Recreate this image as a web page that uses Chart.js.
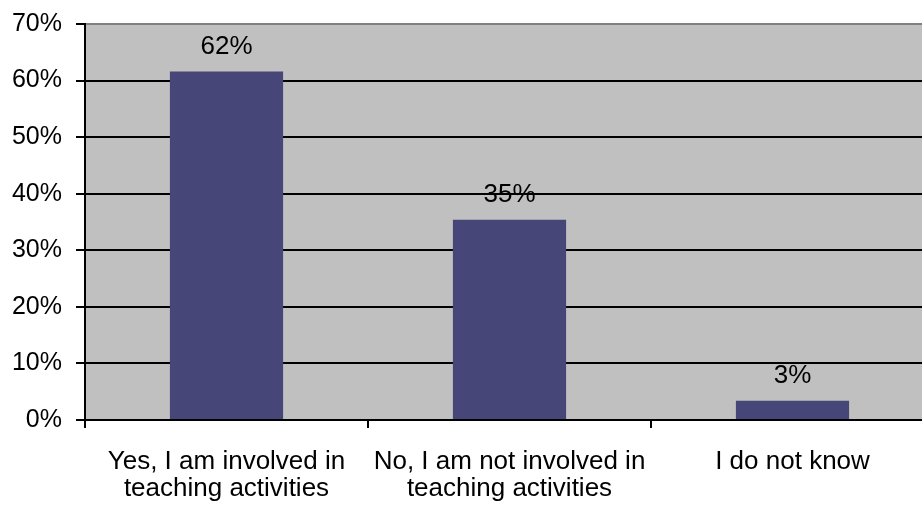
<!DOCTYPE html>
<html lang="en">
<head>
    <meta charset="UTF-8">
    <title>Teaching activities</title>
    <script src="https://cdn.jsdelivr.net/npm/chart.js@4"></script>
    <style>
      html, body { margin: 0; padding: 0; background: #fff; overflow: hidden; }
    </style>
</head>
<body>
    <canvas id="answersChart" width="934" height="506"></canvas>
<script>
  // answers and their share of respondents (%)
  const categories = [
    ['Yes, I am involved in', 'teaching activities'],
    ['No, I am not involved in', 'teaching activities'],
    'I do not know'
  ];
  const shares = [61.6, 35.4, 3.4];
  const yTicks = [0, 10, 20, 30, 40, 50, 60, 70];

  const family = 'Liberation Sans, Arial, sans-serif';
  const tickFont = { family: family, size: 25 };
  const labelFont = { family: family, size: 26 };

  // grey plot background
  const plotBackground = {
    id: 'plotBackground',
    beforeDraw(chart) {
      const { ctx, chartArea: a } = chart;
      ctx.save();
      ctx.fillStyle = '#c0c0c0';
      ctx.fillRect(a.left, a.top, a.right - a.left, a.bottom - a.top);
      ctx.restore();
    }
  };

  // percentage written above each bar
  const valueLabels = {
    id: 'valueLabels',
    afterDatasetsDraw(chart) {
      const { ctx } = chart;
      const meta = chart.getDatasetMeta(0);
      ctx.save();
      ctx.font = labelFont.size + 'px ' + labelFont.family;
      ctx.fillStyle = '#000';
      ctx.textAlign = 'center';
      ctx.textBaseline = 'alphabetic';
      meta.data.forEach((bar, i) => {
        ctx.fillText(Math.round(shares[i]) + '%', bar.x, bar.y - 18);
      });
      ctx.restore();
    }
  };

  const ctx = document.getElementById('answersChart').getContext('2d');

  new Chart(ctx, {
    type: 'bar',
    data: {
      labels: categories,
      datasets: [{
        data: shares,
        backgroundColor: '#464678',
        borderWidth: 0,
        barPercentage: 0.4,
        categoryPercentage: 1
      }]
    },
    options: {
      responsive: false,
      animation: false,
      layout: { padding: { top: 24, right: 0, left: 0, bottom: 0 } },
      plugins: {
        legend: { display: false },
        tooltip: { enabled: false }
      },
      scales: {
        x: {
          offset: true,
          grid: { display: true, drawOnChartArea: false, drawTicks: true, tickLength: 8, color: '#000', lineWidth: 2, offset: true },
          border: { color: '#000', width: 2 },
          ticks: { color: '#000', font: { ...labelFont, lineHeight: 1.04 }, padding: 20, maxRotation: 0 },
          afterFit(scale) { scale.height = 86; }
        },
        y: {
          min: 0,
          max: 70,
          afterBuildTicks(scale) { scale.ticks = yTicks.map(v => ({ value: v })); },
          grid: {
            // top line of the plot frame is grey, the rest black
            color: c => (c.tick && c.tick.value === 70 ? '#808080' : '#000'),
            tickColor: '#000',
            lineWidth: 2,
            tickLength: 9
          },
          border: { color: '#000', width: 2 },
          ticks: { color: '#000', font: tickFont, padding: 14, callback: v => v + '%' },
          afterFit(scale) {
            scale.width = 85;
            scale.paddingTop = 0;
            scale.paddingBottom = 0;
          }
        }
      }
    },
    plugins: [plotBackground, valueLabels]
  });
</script>
</body>
</html>
